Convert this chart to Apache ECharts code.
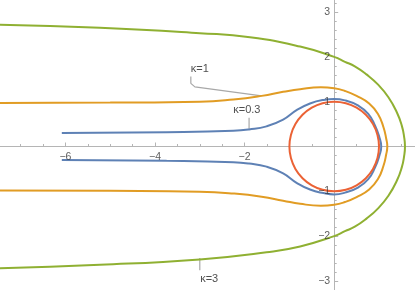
<!DOCTYPE html>
<html>
<head>
<meta charset="utf-8">
<script src="https://cdn.jsdelivr.net/npm/echarts@6/dist/echarts.min.js"></script>
<style>
html,body{margin:0;padding:0;background:#fff;}
#c{width:415px;height:290px;}
</style>
</head>
<body>
<div id="c"></div>
<script>
// ---- data ----
const xTickLabels = [-6, -4, -2];
const yTickLabels = [-3, -2, -1, 1, 2, 3];

const blueUpper = [[-6.08,0.30],[-3.74,0.32],[-2.25,0.35],[-1.90,0.38],[-1.51,0.45],[-1.14,0.60],[-0.84,0.81],[-0.54,0.96],[-0.24,1.04],[0,1.06],[0.24,1.03],[0.54,0.91],[0.76,0.73],[0.91,0.47],[1.01,0.20],[1.05,0]];
const blueLower = [[1.01,-0.20],[0.91,-0.47],[0.76,-0.73],[0.54,-0.91],[0.24,-1.03],[0,-1.07],[-0.24,-1.04],[-0.54,-0.96],[-0.84,-0.81],[-1.14,-0.60],[-1.51,-0.45],[-1.90,-0.38],[-2.25,-0.35],[-3.74,-0.32],[-6.08,-0.30]];

const orangeUpper = [[-7.6,0.97],[-5.0,0.98],[-3.0,1.0],[-2.25,1.05],[-1.62,1.13],[-1.14,1.22],[-0.76,1.28],[-0.3,1.32],[0,1.30],[0.24,1.24],[0.50,1.13],[0.78,0.96],[0.98,0.72],[1.10,0.43],[1.16,0.18],[1.185,0]];
const orangeLower = [[1.16,-0.18],[1.10,-0.43],[0.98,-0.72],[0.78,-0.96],[0.50,-1.13],[0.24,-1.24],[0,-1.30],[-0.3,-1.32],[-0.76,-1.28],[-1.14,-1.21],[-1.62,-1.12],[-2.25,-1.05],[-3.0,-1.01],[-5.0,-0.99],[-7.6,-0.98]];

const greenUpper = [[-7.6,2.72],[-5.23,2.65],[-3.0,2.53],[-1.88,2.44],[-0.76,2.23],[0,2.0],[0.24,1.89],[0.46,1.79],[0.72,1.61],[0.98,1.38],[1.21,1.10],[1.40,0.76],[1.51,0.46],[1.56,0.22],[1.58,0]];
const greenLower = [[1.56,-0.22],[1.51,-0.46],[1.40,-0.76],[1.21,-1.10],[0.98,-1.38],[0.72,-1.61],[0.46,-1.79],[0.24,-1.89],[0,-2.0],[-0.76,-2.23],[-1.51,-2.36],[-3.0,-2.52],[-5.23,-2.64],[-7.6,-2.72]];

const circlePts = [[1,0],[0.966,0.259],[0.866,0.5],[0.707,0.707],[0.5,0.866],[0.259,0.966],[0,1],[-0.259,0.966],[-0.5,0.866],[-0.707,0.707],[-0.866,0.5],[-0.966,0.259],[-1,0],[-0.966,-0.259],[-0.866,-0.5],[-0.707,-0.707],[-0.5,-0.866],[-0.259,-0.966],[0,-1],[0.259,-0.966],[0.5,-0.866],[0.707,-0.707],[0.866,-0.5],[0.966,-0.259],[1,0]];

const labelNames = ['κ=1', 'κ=0.3', 'κ=3'];
const labelPos = [[-3.00,1.73],[-1.95,0.82],[-2.79,-2.95]];
const callout1 = [[-3.20,1.56],[-3.20,1.41],[-3.11,1.33],[-1.62,1.13]];
const callout03 = [[-1.90,0.64],[-1.90,0.38]];
const callout3 = [[-3.00,-2.49],[-3.00,-2.76]];

// ---- chart ----
const FONT = 'Liberation Sans, Arial, sans-serif';
const minus = v => (v < 0 ? '\u2212' + Math.abs(v) : String(v));
const chart = echarts.init(document.getElementById('c'), null, {renderer: 'canvas'});

function curve(data, color, z) {
  return {type: 'line', data: data, smooth: 0.5, symbol: 'none', z: z,
    lineStyle: {color: color, width: 2}, silent: true};
}
function callout(data) {
  return {type: 'line', data: data, symbol: 'none', z: 1, smooth: false,
    lineStyle: {color: '#a8a8a8', width: 1.2}, silent: true};
}
const tickText = {color: '#333', fontFamily: FONT, fontSize: 10.5};

const axisColor = '#b5b5b5';
chart.setOption({
  animation: false,
  backgroundColor: '#fff',
  grid: {left: -24.2, right: -8.8, top: -32.7, bottom: -35.7, containLabel: false, outerBoundsMode: 'none'},
  xAxis: {
    type: 'value', min: -8, max: 2, interval: 2,
    axisLine: {onZero: true, lineStyle: {color: axisColor, width: 1}},
    axisTick: {show: true, inside: true, length: 4, lineStyle: {color: axisColor}},
    minorTick: {show: true, splitNumber: 4, length: 2.5, lineStyle: {color: axisColor}},
    splitLine: {show: false},
    axisLabel: {show: false}
  },
  yAxis: {
    type: 'value', min: -4, max: 4, interval: 1,
    axisLine: {onZero: true, lineStyle: {color: axisColor, width: 1}},
    axisTick: {show: true, inside: true, length: 4, lineStyle: {color: axisColor}},
    minorTick: {show: true, splitNumber: 5, length: 2.5, lineStyle: {color: axisColor}},
    splitLine: {show: false},
    axisLabel: {show: false}
  },
  series: [
    callout(callout1), callout(callout03), callout(callout3),
    curve(blueUpper.concat(blueLower), '#5E81B5', 3),
    curve(orangeUpper.concat(orangeLower), '#E19C24', 3),
    curve(greenUpper.concat(greenLower), '#8FB032', 3),
    curve(circlePts, '#EB6235', 4),
    {type: 'scatter', symbolSize: 0, z: 5, silent: true, clip: false,
      data: labelNames.map((n, i) => ({name: n, value: labelPos[i]})),
      label: {show: true, position: 'inside', formatter: p => p.name,
        color: '#222', fontFamily: FONT, fontSize: 11}},
    {type: 'scatter', symbolSize: 0, z: 5, silent: true, clip: false,
      data: xTickLabels.map(v => ({name: minus(v), value: [v, 0]})),
      label: Object.assign({show: true, position: 'inside', offset: [0, 10.5], formatter: p => p.name}, tickText)},
    {type: 'scatter', symbolSize: 0, z: 5, silent: true, clip: false,
      data: yTickLabels.map(v => ({name: minus(v), value: [0, v]})),
      label: Object.assign({show: true, position: 'left', distance: 4, formatter: p => p.name}, tickText)}
  ]
});
</script>
</body>
</html>
